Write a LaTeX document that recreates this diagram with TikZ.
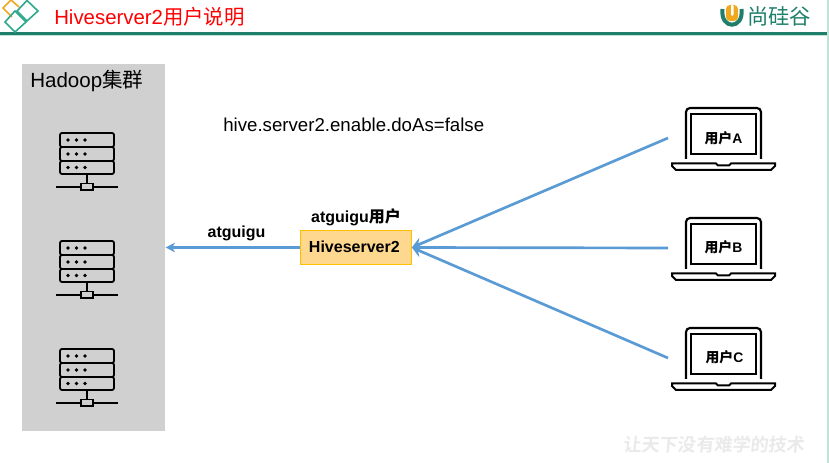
\documentclass[tikz,border=0pt]{standalone}
\usepackage{fontspec}
\setmainfont{Liberation Sans}
\newfontfamily\cjk{Noto Sans CJK SC}
\newfontfamily\cjkb{Noto Sans CJK SC Bold}
\definecolor{hdrgreen}{HTML}{1F7F6B}
\definecolor{hdrlight}{HTML}{BFE3D6}
\definecolor{logogold}{HTML}{F0A81E}
\definecolor{logoteal}{HTML}{2FA88C}
\definecolor{clustergray}{HTML}{D0D0D0}
\definecolor{arrowblue}{HTML}{5B9BD5}
\definecolor{boxfill}{HTML}{FFD890}
\definecolor{boxline}{HTML}{FFC000}
\definecolor{wmgray}{HTML}{EAEAEA}
\usetikzlibrary{arrows.meta}
\tikzset{
  px/.style={x=0.75pt,y=-0.75pt},
  usertxt/.style={font=\bfseries\fontsize{10.4}{12}\selectfont,inner sep=0pt,text=black},
  boldtxt/.style={font=\bfseries\fontsize{12}{14}\selectfont,inner sep=0pt,text=black},
  link/.style={draw=arrowblue,line width=2pt},
  serverpic/.pic={
    \draw[line width=1.35pt,rounded corners=1.5pt] (60,0) rectangle (114,14);
    \draw[line width=1.35pt,rounded corners=1.5pt] (60,14) rectangle (114,28);
    \draw[line width=1.35pt,rounded corners=1.5pt] (60,28) rectangle (114,41);
    \foreach \yy in {7,21,34.5} \foreach \xx in {68,76.5,85} \fill (\xx,\yy) circle (1.9);
    \draw[line width=1.35pt] (87,41) -- (87,50.5);
    \draw[line width=1.35pt] (56,54) -- (81,54) (93,54) -- (118,54);
    \draw[line width=1.35pt] (81,50.5) rectangle (93,57);
  },
  laptoppic/.pic={
    \draw[line width=1.6pt,rounded corners=3pt] (686,51) -- (686,0) -- (761,0) -- (761,51);
    \draw[line width=1.6pt] (691,6) rectangle (756,46);
    \draw[line width=1.5pt] (672,55.5) -- (716,55.5) -- (718,57.5) -- (729,57.5) -- (731,55.5) -- (775,55.5) -- (775,58) -- (771,62) -- (676,62) -- (672,58) -- cycle;
  },
}
\begin{document}
\begin{tikzpicture}[px]
\useasboundingbox (0,0) rectangle (829,463);
\fill[white] (0,0) rectangle (829,463);
% header
\fill[hdrlight] (0,32.5) rectangle (829,36);
\fill[hdrgreen] (0,32.5) rectangle (829,35);
\fill[hdrlight] (827,0) rectangle (829,463);
\draw[logogold,line width=1.2pt] (19,7) -- (11,0) -- (3,8) -- (12,17);
\draw[logoteal,line width=1.2pt] (27,0.5) -- (38,11) -- (27,21) -- (17,11) -- cycle;
\draw[logoteal,line width=1.2pt] (15,11) -- (26,22) -- (15,32) -- (5,22) -- cycle;
\node[anchor=west,inner sep=0pt,text=red,font=\fontsize{15.3}{18}\selectfont] (title) at (54,17) {Hiveserver2{\cjk 用户说明}};
% logo
\draw[hdrgreen,line width=3pt] (722.5,9) .. controls (720,30) and (744,30) .. (741.5,9);
\fill[logogold,rounded corners=3pt] (726,5) rectangle (738,21);
\fill[white,rounded corners=1pt] (731,4.5) rectangle (733.5,16);
\node[anchor=west,inner sep=0pt,text=hdrgreen,font=\cjk\fontsize{16}{18}\selectfont] (logotxt) at (747,16) {尚硅谷};
% cluster
\node[fill=clustergray,draw=none,minimum width=107.25pt,minimum height=275.25pt,inner sep=0pt,anchor=north west] (cluster) at (22,64) {};
\node[anchor=west,inner sep=0pt,font=\fontsize{15.4}{18}\selectfont] (clustertxt) at (30,81) {Hadoop{\cjk 集群}};
\pic at (0,133) {serverpic};
\pic at (0,241) {serverpic};
\pic at (0,349) {serverpic};
% config
\node[anchor=west,inner sep=0pt,font=\fontsize{14}{17}\selectfont] (conf) at (223,125) {hive.server2.enable.doAs=false};
% hive
\node[fill=boxfill,draw=boxline,line width=0.8pt,minimum width=83pt,minimum height=25.5pt,inner sep=0pt,boldtxt] (hive) at (356,247.5) {\raisebox{1.4pt}{Hiveserver2}\hspace*{2.5pt}};
\node[boldtxt] (hiveuser) at (356,217) {atguigu{\cjkb 用户}};
\node[boldtxt] (at) at (236.5,233) {atguigu};
% laptops
\pic at (0,108) {laptoppic};
\pic at (0,218) {laptoppic};
\pic at (0,328) {laptoppic};
\node[usertxt] (ua) at (723.5,138) {{\cjkb 用户}A};
\node[usertxt] (ub) at (723.5,247.5) {{\cjkb 用户}B};
\node[usertxt] (uc) at (724.5,357.5) {{\cjkb 用户}C};
% connectors
\coordinate (ea) at (668,138);
\coordinate (eb) at (668,248);
\coordinate (ec) at (668,358);
\draw[link,-{Stealth[length=7pt,width=7pt,inset=2pt]}] (hive.west) -- (cluster.east |- hive.west);
\draw[link,{Stealth[length=8pt,width=9pt,inset=3pt]}-] (hive.east) -- (ea);
\draw[link,{Stealth[length=8pt,width=9pt,inset=3pt]}-] (hive.east) -- (eb);
\draw[link,{Stealth[length=8pt,width=9pt,inset=3pt]}-] (hive.east) -- (ec);
% watermark
\node[anchor=west,inner sep=0pt,text=wmgray,font=\cjkb\fontsize{13.6}{16}\selectfont,xslant=0.1] (wm) at (624,445) {让天下没有难学的技术};
\end{tikzpicture}
\end{document}
